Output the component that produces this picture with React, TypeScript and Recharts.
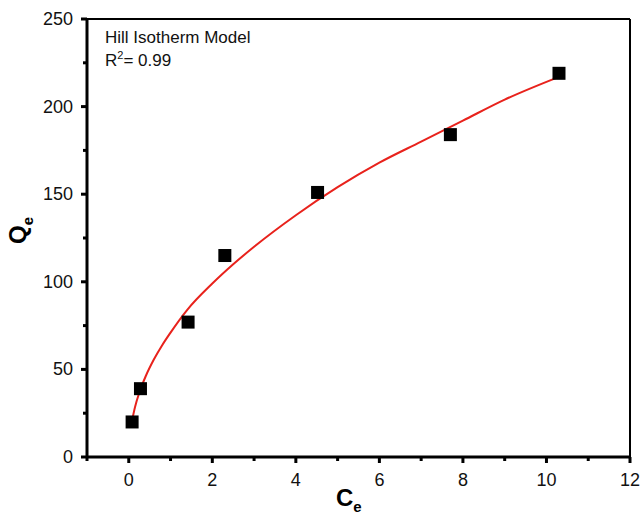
import React from 'react';
import { ComposedChart, Scatter, Line, XAxis, YAxis, ReferenceLine } from 'recharts';

// measured points
const ceValues = [0.08, 0.28, 1.42, 2.3, 4.52, 7.7, 10.3];
const qeValues = [20, 39, 77, 115, 151, 184, 219];

// fitted Hill curve
const fitCe = [0.08, 0.15, 0.25, 0.4, 0.6, 0.8, 1.0, 1.4, 2, 2.5, 3, 4, 5, 6, 7, 8, 9, 10.3];
const fitQe = [21, 28.6, 36.6, 45.8, 55.6, 63.8, 71, 84, 99, 110, 120, 138, 154, 168, 180, 192, 204, 217];

const xTicks = [-1, 0, 1, 2, 3, 4, 5, 6, 7, 8, 9, 10, 11, 12];
const yTicks = [0, 25, 50, 75, 100, 125, 150, 175, 200, 225, 250];

const points = ceValues.map((x, i) => ({ x, y: qeValues[i] }));
const fit = fitCe.map((x, i) => ({ x, y: fitQe[i] }));

const FONT = '"Liberation Sans", Arial, sans-serif';

const XTick = (props: any) => {
    const { x, y, payload } = props;
    const major = payload.value % 2 === 0;
    return (
        <g>
            <line x1={x} x2={x} y1={y} y2={y + (major ? 6 : 4)} stroke="#000" strokeWidth={3} />
            {major && (
                <text x={x} y={y + 29} textAnchor="middle" fontSize={18} fontFamily={FONT} fill="#111">
                    {payload.value}
                </text>
            )}
        </g>
    );
};

const YTick = (props: any) => {
    const { x, y, payload } = props;
    const major = payload.value % 50 === 0;
    return (
        <g>
            <line x1={x} x2={x - (major ? 6 : 4)} y1={y} y2={y} stroke="#000" strokeWidth={3} />
            {major && (
                <text x={x - 14} y={y + 6} textAnchor="end" fontSize={18} fontFamily={FONT} fill="#111">
                    {payload.value}
                </text>
            )}
        </g>
    );
};

const SquareDot = (props: any) => {
    const { cx, cy } = props;
    return <rect x={cx - 6.5} y={cy - 6.5} width={13} height={13} fill="#000" />;
};

export default function App() {
    return (
        <div style={{ position: 'absolute', left: 0, top: 0, width: 640, height: 520, background: '#fff' }}>
            <ComposedChart width={640} height={520} margin={{ top: 19, right: 10, bottom: 0, left: 0 }}>
                <XAxis
                    type="number"
                    dataKey="x"
                    domain={[-1, 12]}
                    ticks={xTicks}
                    interval={0}
                    height={63}
                    tickSize={0}
                    tickMargin={0}
                    tickLine={false}
                    axisLine={{ stroke: '#000', strokeWidth: 3 }}
                    tick={<XTick />}
                    allowDataOverflow
                />
                <YAxis
                    type="number"
                    dataKey="y"
                    domain={[0, 250]}
                    ticks={yTicks}
                    interval={0}
                    width={87}
                    tickSize={0}
                    tickMargin={0}
                    tickLine={false}
                    axisLine={{ stroke: '#000', strokeWidth: 3 }}
                    tick={<YTick />}
                    allowDataOverflow
                />
                <ReferenceLine y={250} stroke="#000" strokeWidth={2} />
                <ReferenceLine x={12} stroke="#000" strokeWidth={2} />
                <Line
                    data={fit}
                    dataKey="y"
                    type="monotone"
                    stroke="#e8221c"
                    strokeWidth={2}
                    dot={false}
                    isAnimationActive={false}
                />
                <Scatter data={points} dataKey="y" fill="#000" shape={<SquareDot />} isAnimationActive={false} />
                <text x={105} y={43} fontSize={17} fontFamily={FONT} fill="#111">Hill Isotherm Model</text>
                <text x={105} y={66} fontSize={17} fontFamily={FONT} fill="#111">
                    R<tspan dy={-7} fontSize={11}>2</tspan><tspan dy={7}>= 0.99</tspan>
                </text>
                <text transform="translate(26,244) rotate(-90)" fontSize={24} fontWeight="bold" fontFamily={FONT} fill="#000">
                    Q<tspan dy={7} fontSize={15}>e</tspan>
                </text>
                <text x={336} y={506} fontSize={24} fontWeight="bold" fontFamily={FONT} fill="#000">
                    C<tspan dy={6} fontSize={15}>e</tspan>
                </text>
            </ComposedChart>
        </div>
    );
}
